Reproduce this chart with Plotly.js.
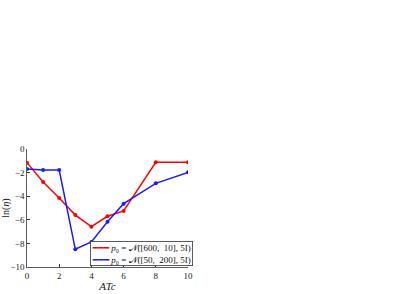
<!DOCTYPE html>
<html><head><meta charset="utf-8">
<script src="https://cdn.plot.ly/plotly-3.0.1.min.js"></script>
<style>html,body{margin:0;padding:0;background:#fff}#c{width:415px;height:294px}</style>
</head><body><div id="c"></div>
<script>
const atc = [0, 1, 2, 3, 4, 5, 6, 8, 10];
const redVals = [-1.16, -2.8, -4.15, -5.6, -6.58, -5.7, -5.25, -1.13, -1.13];
const blueVals = [-1.7, -1.78, -1.78, -8.5, -7.88, -6.16, -4.63, -2.91, -1.98];
const redName = '<i>p</i>₀ = <span style="font-family:DejaVu Sans">𝒩</span>([600,  10], 5I)';
const blueName = '<i>p</i>₀ = <span style="font-family:DejaVu Sans">𝒩</span>([50,  200], 5I)';
const xTicks = [0, 2, 4, 6, 8, 10];
const yTicks = [0, -2, -4, -6, -8, -10];
const serif = 'Liberation Serif, DejaVu Serif, serif';
const font = {family: serif, size: 9, color: '#222'};
const red = '#ff0000', blue = '#1a1aff';
const traces = [
  {x: atc, y: redVals, showlegend: false, mode: 'lines+markers', line: {color: red, width: 1.5}, marker: {color: red, size: 4}},
  {x: atc, y: blueVals, showlegend: false, mode: 'lines+markers', line: {color: blue, width: 1.5}, marker: {color: blue, size: 4}}
];
const legendText = '<span style="color:' + red + '">━━━</span> ' + redName + '<br>' +
                   '<span style="color:' + blue + '">━━━</span> ' + blueName;
const layout = {
  width: 415, height: 294,
  margin: {l: 27, r: 227, t: 149, b: 27},
  paper_bgcolor: '#fff', plot_bgcolor: '#fff',
  font: font,
  showlegend: false,
  annotations: [{
    xref: 'paper', yref: 'paper', x: 1.03, y: 0.005, xanchor: 'right', yanchor: 'bottom',
    text: legendText, showarrow: false, align: 'left', bgcolor: '#fff', bordercolor: '#333', borderwidth: 0.8, borderpad: 1,
    font: {family: serif, size: 9, color: '#111'}
  }],
  xaxis: {range: [0, 10], tickvals: xTicks, ticks: 'inside', ticklen: 3, showgrid: false, zeroline: false,
    showline: true, linecolor: '#333', linewidth: 0.8, tickcolor: '#333',
    title: {text: '<i>ATc</i>', font: {family: serif, size: 11, color: '#222'}, standoff: 2}},
  yaxis: {range: [-10, 0], tickvals: yTicks, ticks: 'inside', ticklen: 3, showgrid: false, zeroline: false,
    showline: true, linecolor: '#333', linewidth: 0.8, tickcolor: '#333',
    title: {text: 'ln(<i>η</i>)', font: {family: serif, size: 10, color: '#222'}, standoff: 4}}
};
Plotly.newPlot('c', traces, layout, {displayModeBar: false, staticPlot: true});
</script></body></html>
